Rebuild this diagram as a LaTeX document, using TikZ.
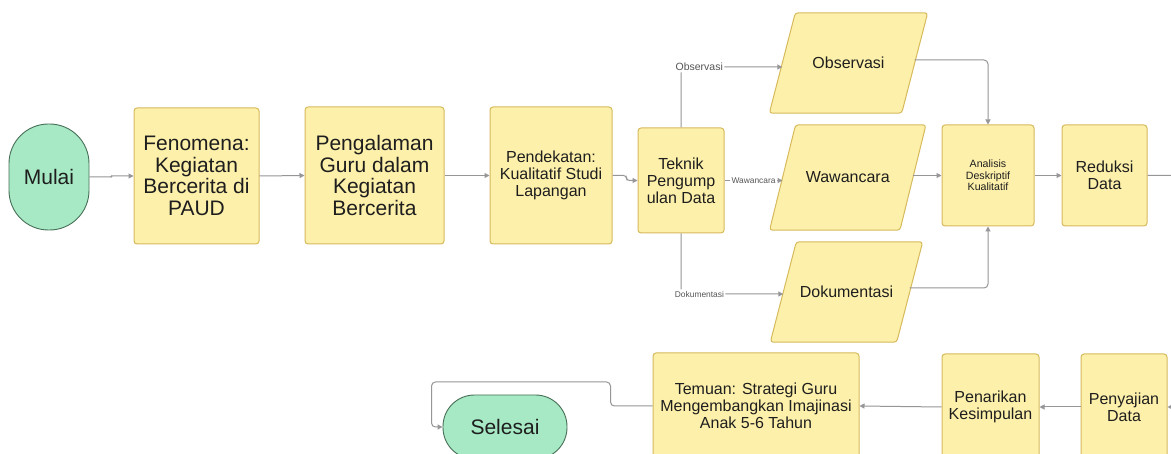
\documentclass[tikz,border=0pt]{standalone}
\usepackage{fontspec}
\setmainfont{Liberation Sans}
\usetikzlibrary{arrows.meta,backgrounds,calc}
\definecolor{boxfill}{RGB}{253,240,170}
\definecolor{boxline}{RGB}{214,186,92}
\definecolor{termfill}{RGB}{166,233,196}
\definecolor{termline}{RGB}{72,112,88}
\definecolor{conncol}{RGB}{150,150,152}
\definecolor{txt}{RGB}{30,30,30}
\definecolor{labtxt}{RGB}{85,85,85}
\newcommand{\bigtxt}{\fontsize{21}{21.5}\selectfont}
\newcommand{\midtxt}{\fontsize{16}{17}\selectfont}
\newcommand{\smalltxt}{\fontsize{10.6}{11.5}\selectfont}
\begin{document}
\begin{tikzpicture}[x=1pt,y=-1pt,
  every node/.style={inner sep=0pt, text=txt},
  procbox/.style={draw=boxline, fill=boxfill, line width=1pt, rounded corners=3pt, align=center},
  termbox/.style={draw=termline, fill=termfill, line width=0.9pt, align=center, font=\bigtxt},
  pgnode/.style={align=center, font=\midtxt},
  pgshape/.style={draw=boxline, fill=boxfill, line width=1pt, rounded corners=3pt},
  link/.style={draw=conncol, line width=1pt, rounded corners=4pt, -{Triangle[length=5pt,width=5pt]}},
  lab/.style={fill=white, inner sep=1.5pt, text=labtxt}
]
\useasboundingbox (0,0) rectangle (1171,454);

% top row
\node[termbox, minimum width=80pt, minimum height=106pt, rounded corners=39.5pt] (mul) at (49,177) {Mulai};
\node[procbox, minimum width=125pt, minimum height=136pt, font=\bigtxt] (fen) at (196.5,176) {Fenomena:\\Kegiatan\\Bercerita di\\PAUD};
\node[procbox, minimum width=139pt, minimum height=137pt, font=\bigtxt] (pgl) at (374.5,175.5) {Pengalaman\\Guru dalam\\Kegiatan\\Bercerita};
\node[procbox, minimum width=122pt, minimum height=137pt, font=\midtxt] (pdk) at (551,175.5) {Pendekatan:\\Kualitatif Studi\\Lapangan};
\node[procbox, minimum width=86pt, minimum height=105pt, font=\midtxt] (tek) at (681,180.5) {Teknik\\Pengump\\ulan Data};

% parallelograms (text nodes; shapes on background)
\node[pgnode, minimum width=132pt, minimum height=100pt] (obs) at (848.5,63) {Observasi};
\node[pgnode, minimum width=130pt, minimum height=105pt] (waw) at (847.75,177.5) {Wawancara};
\node[pgnode, minimum width=126pt, minimum height=100pt] (dok) at (846.5,292) {Dokumentasi};

\node[procbox, minimum width=92pt, minimum height=101pt, font=\smalltxt] (ana) at (988,175.5) {Analisis\\Deskriptif\\Kualitatif};
\node[procbox, minimum width=85pt, minimum height=101pt, font=\midtxt] (red) at (1104.5,175.5) {Reduksi\\Data};

% bottom row
\node[procbox, minimum width=86pt, minimum height=106pt, font=\midtxt] (pys) at (1124,407) {Penyajian\\Data};
\node[procbox, minimum width=97pt, minimum height=106pt, font=\midtxt] (pen) at (990.5,407) {Penarikan\\Kesimpulan};
\node[procbox, minimum width=206pt, minimum height=106pt, font=\midtxt] (tem) at (756,406) {Temuan: Strategi Guru\\Mengembangkan Imajinasi\\Anak 5-6 Tahun};
\node[termbox, minimum width=124pt, minimum height=64pt, rounded corners=31.5pt] (sel) at (505,427) {Selesai};

\begin{scope}[on background layer]
  \fill[white] (0,0) rectangle (1171,454);
  \foreach \n in {obs,waw,dok}
    \draw[pgshape] ([xshift=13pt]\n.north west) -- ([xshift=13pt]\n.north east)
      -- ([xshift=-13pt]\n.south east) -- ([xshift=-13pt]\n.south west) -- cycle;
\end{scope}

% connectors
\draw[link, rounded corners=0.8pt] (mul.east) -- ++(22,0) |- (fen.west);
\draw[link] (fen.east) -- (pgl.west);
\draw[link] (pgl.east) -- (pdk.west);
\draw[link, rounded corners=3pt] (pdk.east) -- ++(14,0) |- (tek.west);
\draw[link] (tek.north) |- ([yshift=-4pt]obs.west)
  node[lab, pos=0.59, font=\fontsize{10.5}{11}\selectfont] {Observasi};
\draw[link] (tek.east) -- (tek.east -| waw.west)
  node[lab, midway, font=\fontsize{8.4}{9}\selectfont] {Wawancara};
\draw[link] (tek.south) |- ([yshift=-2pt]dok.west)
  node[lab, pos=0.59, font=\fontsize{8.4}{9}\selectfont] {Dokumentasi};
\draw[link] ([yshift=3pt]obs.east) -| (ana.north);
\draw[link] (ana.west -| waw.east) -- (ana.west);
\draw[link] ([yshift=4pt]dok.east) -| (ana.south);
\draw[link] (ana.east) -- (red.west);
\draw[link] (red.east) -- ++(45,0) |- (pys.east);
\draw[link] (pys.west) -- (pen.east);
\draw[link] (pen.west) -- (tem.east);
\draw[link] (tem.west) -- ++(-42,0) -- ++(0,-24) -- ++(-179,0) |- (sel.west);
\end{tikzpicture}
\end{document}
